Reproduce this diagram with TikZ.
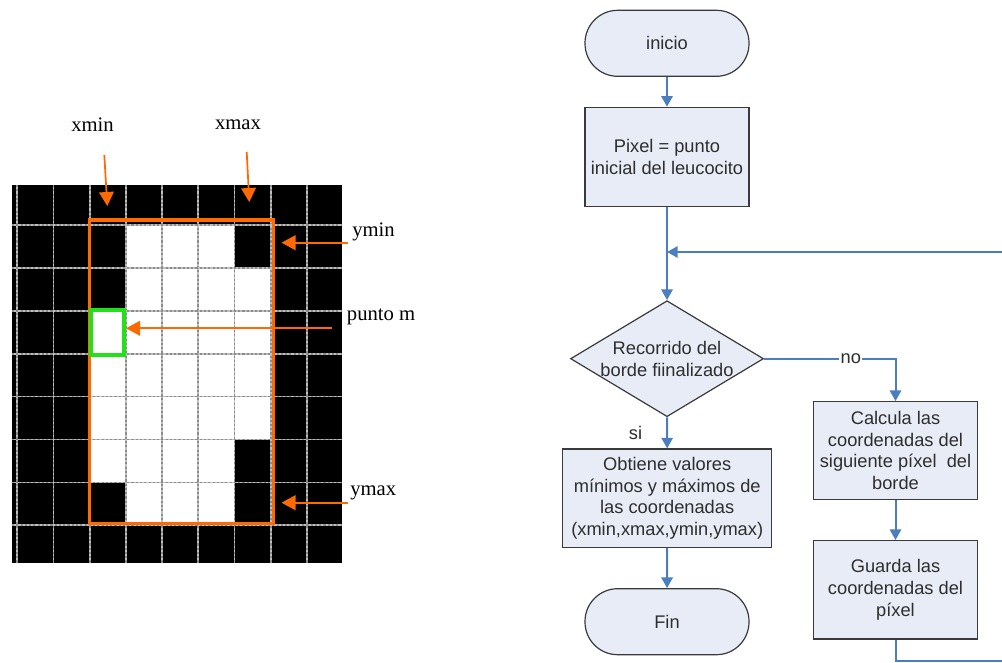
\documentclass[tikz,border=0pt]{standalone}
\usepackage{fontspec}
\setmainfont{Liberation Serif}
\newfontfamily\flowfont{Liberation Sans}
\usetikzlibrary{arrows.meta,shapes.geometric}

\definecolor{marker}{HTML}{FF6A00}
\definecolor{pick}{HTML}{22E01A}
\definecolor{boxfill}{HTML}{E7ECF6}
\definecolor{boxline}{HTML}{3A3A3A}
\definecolor{flow}{HTML}{4A7EBF}
\definecolor{gridline}{HTML}{BEBEBE}
\definecolor{griddash}{HTML}{8C8C8C}
\definecolor{flowtext}{HTML}{2E2E2E}

\begin{document}
\begin{tikzpicture}[x=0.75pt,y=-0.75pt,
  gridstyle/.style={draw=gridline, line width=1.3pt},
  griddashes/.style={draw=griddash, line width=1.3pt, dash pattern=on 1.6pt off 1.6pt},
  pointer/.style={draw=marker, line width=1.3pt, -{Triangle[length=10.5pt,width=11pt]}},
  tag/.style={font=\fontsize{15.5}{18}\selectfont, inner sep=0pt},
  flowfontstyle/.style={font=\flowfont\fontsize{13.7}{16.3}\selectfont, text=flowtext, align=center},
  procbox/.style={flowfontstyle, draw=boxline, fill=boxfill, line width=0.9pt, inner sep=0pt},
  terminal/.style={procbox, rounded corners=24.5pt, minimum width=123pt, minimum height=49.5pt},
  decision/.style={procbox, diamond, minimum width=144.75pt, minimum height=87pt},
  flowarrow/.style={draw=flow, line width=1.5pt, -{Triangle[length=8pt,width=8.5pt]}},
  branch/.style={flowfontstyle, inner sep=1pt}
]
\useasboundingbox (0,0) rectangle (1002,663);
\clip (0,0) rectangle (1002,663);

% ---------- pixel grid ----------
\fill[black] (12,185) rectangle (342,563);
\foreach \r/\cols in {0/{3,4,5},1/{3,4,5,6},2/{2,3,4,5,6},3/{2,3,4,5,6},
                      4/{2,3,4,5,6},5/{2,3,4,5},6/{3,4,5}}{
  \foreach \c in \cols{
    \fill[white] ({17.3+36.2*\c},{225+42.9*\r}) rectangle ({17.3+36.2*(\c+1)},{225+42.9*(\r+1)});
  }
}
\foreach \k in {0,...,8}{
  \draw[gridstyle] ({17.3+36.2*\k},185) -- ({17.3+36.2*\k},563);
  \draw[griddashes] ({17.3+36.2*\k},185) -- ({17.3+36.2*\k},563);
}
\foreach \k in {0,...,7}{
  \draw[gridstyle] (12,{225+42.9*\k}) -- (342,{225+42.9*\k});
  \draw[griddashes] (12,{225+42.9*\k}) -- (342,{225+42.9*\k});
}

% bounding box of the cell and the starting pixel
\draw[marker, line width=2.5pt] (89.2,220) rectangle (273.7,523.7);
\draw[pick, line width=2.8pt] (90.8,310.3) rectangle (123.7,354.7);

% labels and their pointers
\node[tag, anchor=base] (lxmin) at (92.5,131.7) {xmin};
\node[tag, anchor=base] (lxmax) at (238,129.3) {xmax};
\node[tag, anchor=base west] (lymin) at (352,236) {ymin};
\node[tag, anchor=base west] (lpm) at (346.7,320) {punto m};
\node[tag, anchor=base west] (lymax) at (350,495) {ymax};

\coordinate (pxmin0) at (104.3,155);
\coordinate (pxmin1) at (107.3,206);
\coordinate (pxmax0) at (246.7,152);
\coordinate (pxmax1) at (249.3,202);
\coordinate (pymin0) at (348,242.7);
\coordinate (pymin1) at (281.5,242.7);
\coordinate (ppm0) at (332,328.3);
\coordinate (ppm1) at (126,328.3);
\coordinate (pymax0) at (348,502.7);
\coordinate (pymax1) at (281.5,502.7);

\draw[pointer] (pxmin0) -- (pxmin1);
\draw[pointer] (pxmax0) -- (pxmax1);
\draw[pointer] (pymin0) -- (pymin1);
\draw[pointer] (ppm0) -- (ppm1);
\draw[pointer] (pymax0) -- (pymax1);

% ---------- flowchart ----------
\node[terminal] (inicio) at (667,43.3) {inicio};
\node[procbox, minimum width=123pt, minimum height=74.5pt] (pixel) at (667,157)
  {Pixel = punto\\inicial del leucocito};
\node[decision, label={[flowfontstyle]center:Recorrido del\\borde fiinalizado}] (dec) at (667,358.7) {};
\node[procbox, minimum width=156.75pt, minimum height=73.7pt] (obtiene) at (667.2,498.2)
  {Obtiene valores\\mínimos y máximos de\\las coordenadas\\(xmin,xmax,ymin,ymax)};
\node[terminal] (fin) at (667,621.7) {Fin};
\node[procbox, minimum width=123.3pt, minimum height=73.2pt] (calcula) at (895.5,450.5)
  {Calcula las\\coordenadas del\\siguiente píxel~ del\\borde};
\node[procbox, minimum width=123.3pt, minimum height=73.7pt] (guarda) at (895.5,589.8)
  {Guarda las\\coordenadas del\\píxel};

\coordinate (join) at (667,252);
\coordinate (back1) at (895.5,661);
\coordinate (back2) at (1030,661);
\coordinate (back3) at (1030,252);

\draw[flowarrow] (inicio) -- (pixel);
\draw[flowarrow] (pixel) -- (dec.north);
\draw[flowarrow] (dec.east) -| node[branch, pos=0.33, fill=white] {no} (calcula.north);
\draw[flowarrow] (dec.south) -- node[branch, left=17pt] {si} (obtiene.north);
\draw[flowarrow] (obtiene) -- (fin);
\draw[flowarrow] (calcula) -- (guarda);
\draw[flowarrow] (guarda.south) -- (back1) -- (back2) -- (back3) -- (join);
\end{tikzpicture}
\end{document}
